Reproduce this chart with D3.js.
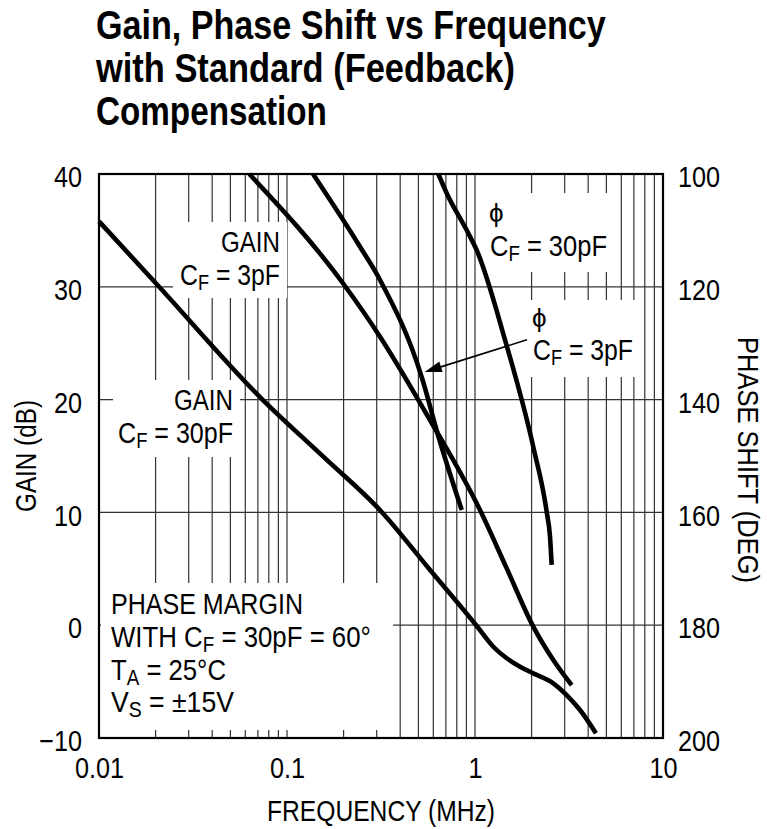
<!DOCTYPE html>
<html>
<head>
<meta charset="utf-8">
<script src="https://cdn.jsdelivr.net/npm/d3@7"></script>
<style>
  html, body { margin: 0; padding: 0; background: #fff; }
  svg { display: block; }
  text { font-family: "Liberation Sans Narrow", "Liberation Sans", Arial, sans-serif; fill: #000; }
</style>
</head>
<body>
<svg id="chart" width="767" height="829"></svg>
<script>
// ---------------- data ----------------
const titleLines = ["Gain, Phase Shift vs Frequency", "with Standard (Feedback)", "Compensation"];

const xTickValues = [0.01, 0.1, 1, 10];
const xTickLabels = ["0.01", "0.1", "1", "10"];
const gainTickValues = [-10, 0, 10, 20, 30, 40];
const gainTickLabels = ["\u221210", "0", "10", "20", "30", "40"];
const phaseTickValues = [100, 120, 140, 160, 180, 200];
const phaseTickLabels = ["100", "120", "140", "160", "180", "200"];

// Gain, CF = 30pF
const gain30Freq = [0.01, 0.0207, 0.0736, 0.156, 0.319, 0.568, 1.012, 1.251, 1.475, 1.736, 2.042, 2.609, 3.074, 3.619, 4.40];
const gain30dB   = [35.8, 30.07, 20.05, 14.94, 10.04, 5.03, 0.02, -1.91, -2.93, -3.68, -4.27, -5.15, -6.19, -7.52, -9.58];

// Gain, CF = 3pF
const gain3Freq = [0.063, 0.2035, 0.3124, 0.5763, 1.0631, 1.4746, 2.0421, 2.6093, 3.2685];
const gain3dB   = [40.0, 30.07, 25.58, 18.19, 10.21, 5.04, -0.13, -3.09, -5.32];

// Phase, CF = 3pF
const phase3Freq = [0.1375, 0.2445, 0.3124, 0.5225, 0.6356, 0.8499];
const phase3Deg  = [100.0, 112.89, 118.79, 136.17, 146.28, 159.57];

// Phase, CF = 30pF
const phase30Freq = [0.638, 0.707, 0.921, 1.021, 1.444, 2.042, 2.406, 2.506, 2.558];
const phase30Deg  = [100.0, 103.4, 110.5, 113.5, 129.4, 148.4, 159.9, 164.3, 169.3];

// annotation arrow (freq, phase)
const arrowFromFreq = 1.89, arrowFromPhase = 129.4;
const arrowToFreq = 0.54, arrowToPhase = 135.1;

// ---------------- layout ----------------
const svg = d3.select("#chart");
const L = 99, R = 663, T = 174, B = 738;
const FS = 30, SUB = 22, SUBDY = 5;

const x = d3.scaleLog().domain([0.01, 10]).range([L, R]);
const yG = d3.scaleLinear().domain([-10, 40]).range([B, T]);
const yP = d3.scaleLinear().domain([200, 100]).range([B, T]);

// squeeze a text horizontally to a target width, via a transform
function fit(t, w, base) {
  const len = t.node().getComputedTextLength();
  t.attr("transform", `${base} scale(${w / len},1)`);
  return t;
}

// title
const titleW = [510, 419, 231];
titleLines.forEach((s, i) => {
  const t = svg.append("text").attr("x", 0).attr("y", 0)
    .attr("font-size", 40).attr("font-weight", "bold").text(s);
  fit(t, titleW[i], `translate(96,${39 + i * 43})`);
});

// grid
const grid = svg.append("g").attr("stroke", "#333").attr("stroke-width", 1.2);
grid.selectAll("line.v").data(x.ticks()).join("line")
  .attr("class", "v")
  .attr("x1", d => x(d)).attr("x2", d => x(d))
  .attr("y1", T).attr("y2", B);
grid.selectAll("line.h").data(gainTickValues).join("line")
  .attr("class", "h")
  .attr("x1", L).attr("x2", R)
  .attr("y1", d => yG(d)).attr("y2", d => yG(d));

// white label boxes that break the grid
const boxes = [
  [173, 222, 287, 298],
  [113, 380, 240, 457],
  [101, 583, 393, 730],
  [485, 193, 613, 272],
  [527, 300, 637, 377]
];
svg.append("g").selectAll("rect").data(boxes).join("rect")
  .attr("x", d => d[0]).attr("y", d => d[1])
  .attr("width", d => d[2] - d[0]).attr("height", d => d[3] - d[1])
  .attr("fill", "#fff");

// frame
svg.append("rect").attr("x", L).attr("y", T).attr("width", R - L).attr("height", B - T)
  .attr("fill", "none").attr("stroke", "#000").attr("stroke-width", 2.2);

// axes
const axL = svg.append("g").attr("transform", `translate(${L},0)`)
  .call(d3.axisLeft(yG).tickValues(gainTickValues).tickSize(0).tickPadding(17)
    .tickFormat((d, i) => gainTickLabels[i]));
const axR = svg.append("g").attr("transform", `translate(${R},0)`)
  .call(d3.axisRight(yP).tickValues(phaseTickValues).tickSize(0).tickPadding(15)
    .tickFormat((d, i) => phaseTickLabels[i]));
const axB = svg.append("g").attr("transform", `translate(0,${B})`)
  .call(d3.axisBottom(x).tickValues(xTickValues).tickSize(0).tickPadding(19)
    .tickFormat((d, i) => xTickLabels[i]));
[axL, axR, axB].forEach(a => {
  a.select(".domain").remove();
  a.selectAll("text").attr("font-size", 29).attr("fill", "#000")
    .style("font-family", '"Liberation Sans Narrow", "Liberation Sans", Arial, sans-serif')
    .each(function () {
      const s = d3.select(this);
      const tx = +s.attr("x") || 0;
      s.attr("x", 0).attr("transform", `translate(${tx},0) scale(0.87,1)`);
    });
});
axL.selectAll("text").attr("dy", "0.44em");
axR.selectAll("text").attr("dy", "0.44em");

// axis titles
fit(svg.append("text").attr("text-anchor", "middle").attr("font-size", FS).text("GAIN (dB)"),
  112, "translate(36,456) rotate(-90)");
fit(svg.append("text").attr("text-anchor", "middle").attr("font-size", FS).text("PHASE SHIFT (DEG)"),
  246, "translate(738,460) rotate(90)");
fit(svg.append("text").attr("text-anchor", "middle").attr("font-size", FS).text("FREQUENCY (MHz)"),
  228, "translate(381,821)");

// curves
const lineG = d3.line().x(d => x(d[0])).y(d => yG(d[1])).curve(d3.curveMonotoneX);
const lineP = d3.line().x(d => x(d[0])).y(d => yP(d[1])).curve(d3.curveMonotoneX);
const curves = svg.append("g").attr("fill", "none").attr("stroke", "#000")
  .attr("stroke-width", 4.6);
curves.append("path").attr("d", lineG(d3.zip(gain30Freq, gain30dB)));
curves.append("path").attr("d", lineG(d3.zip(gain3Freq, gain3dB)));
curves.append("path").attr("d", lineP(d3.zip(phase3Freq, phase3Deg)));
curves.append("path").attr("d", lineP(d3.zip(phase30Freq, phase30Deg)));

// arrow
const ax1 = x(arrowFromFreq), ay1 = yP(arrowFromPhase);
const ax2 = x(arrowToFreq), ay2 = yP(arrowToPhase);
const ang = Math.atan2(ay2 - ay1, ax2 - ax1);
const headLen = 17, headW = 5.5;
const bx = ax2 - headLen * Math.cos(ang), by = ay2 - headLen * Math.sin(ang);
svg.append("line").attr("x1", ax1).attr("y1", ay1).attr("x2", bx).attr("y2", by)
  .attr("stroke", "#000").attr("stroke-width", 1.6);
svg.append("path")
  .attr("d", `M${ax2},${ay2} L${bx - headW * Math.sin(ang)},${by + headW * Math.cos(ang)} L${bx + headW * Math.sin(ang)},${by - headW * Math.cos(ang)} Z`)
  .attr("fill", "#000");

// labels
const lab = svg.append("g");
function plain(px, py, anchor, s, w) {
  const t = lab.append("text").attr("font-size", FS).attr("text-anchor", anchor).text(s);
  return fit(t, w, `translate(${px},${py})`);
}
function subText(px, py, anchor, main, sub, rest, w) {
  const t = lab.append("text").attr("font-size", FS).attr("text-anchor", anchor);
  t.append("tspan").text(main);
  t.append("tspan").attr("font-size", SUB).attr("dy", SUBDY).text(sub);
  t.append("tspan").attr("dy", -SUBDY).text(rest);
  return fit(t, w, `translate(${px},${py})`);
}
plain(280, 252, "end", "GAIN", 59);
subText(280, 285, "end", "C", "F", " = 3pF", 100);
plain(233, 410, "end", "GAIN", 59);
subText(233, 443, "end", "C", "F", " = 30pF", 115);

lab.append("text").attr("x", 489).attr("y", 222).attr("font-size", 26).text("\u03D5");
subText(490, 256, "start", "C", "F", " = 30pF", 117);
lab.append("text").attr("x", 532).attr("y", 327).attr("font-size", 26).text("\u03D5");
subText(533, 360, "start", "C", "F", " = 3pF", 100);

plain(111, 614, "start", "PHASE MARGIN", 192);
subText(111, 647, "start", "WITH C", "F", " = 30pF = 60\u00B0", 260);
subText(111, 680, "start", "T", "A", " = 25\u00B0C", 115);
subText(111, 712, "start", "V", "S", " = \u00B115V", 123);
</script>
</body>
</html>
